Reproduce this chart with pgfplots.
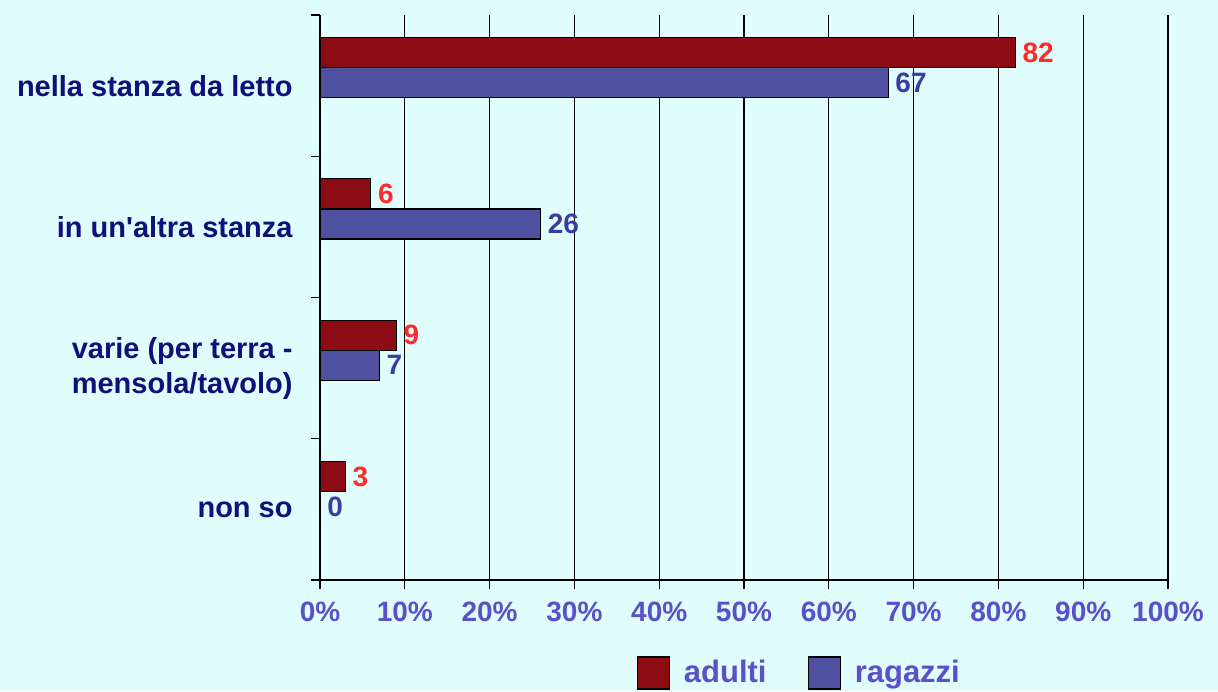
\documentclass[border=0pt]{standalone}
\usepackage{pgfplots}
\pgfplotsset{compat=1.18}
\usepackage{fontspec}
\setmainfont{Liberation Sans}
\definecolor{bgc}{HTML}{E0FCFC}
\definecolor{adulti}{HTML}{8C0C14}
\definecolor{ragazzi}{HTML}{5050A0}
\definecolor{tickc}{HTML}{5A50C8}
\definecolor{catc}{HTML}{10107A}
\definecolor{valred}{HTML}{FF2A2A}
\definecolor{valblue}{HTML}{3C3CA0}
\begin{document}
\begin{tikzpicture}
\useasboundingbox (-160pt,-55.5pt) rectangle (449pt,290pt);
\fill[bgc] (-160pt,-55.5pt) rectangle (449pt,290pt);
\begin{axis}[
  scale only axis,
  width=424pt, height=282.5pt,
  xbar,
  y dir=reverse,
  xmin=0, xmax=100,
  ymin=-0.5, ymax=3.5,
  axis x line*=bottom,
  axis y line*=left,
  xtick={0,10,...,100},
  xticklabel={\pgfmathprintnumber{\tick}\%},
  xticklabel style={font=\fontsize{14}{16}\selectfont\bfseries, text=tickc, yshift=-3pt},
  xmajorgrids,
  grid style={black, line width=0.6pt},
  axis line style={black, line width=0.6pt},
  tick style={black, line width=0.6pt},
  tick align=outside,
  major tick length=4.5pt,
  ytick={-0.5,0.5,1.5,2.5,3.5},
  yticklabels={},
  extra y ticks={0,1,2,3},
  extra y tick labels={nella stanza da letto, in un\textquotesingle altra stanza, {varie (per terra -\\mensola/tavolo)}, non so},
  extra y tick style={major tick length=0pt, yticklabel style={font=\fontsize{14.5}{17.5}\selectfont\bfseries, text=catc, align=center, inner sep=0pt, xshift=-13.5pt}},
  /pgf/number format/assume math mode=true,
  clip=false,
  legend columns=2,
  legend style={draw=none, fill=none, at={(axis description cs:0.373,-0.1646)}, anchor=west,
    inner sep=0pt, nodes={inner sep=0pt, font=\fontsize{15.5}{17}\selectfont\bfseries, text=tickc},
    /tikz/every odd column/.append style={column sep=7pt},
    /tikz/every even column/.append style={column sep=20.5pt}},
  legend cell align=left,
]
\addplot[xbar, fill=adulti, draw=black, line width=0.6pt, bar width=0.2124, bar shift=-0.2336,
  nodes near coords, every node near coord/.append style={text=valred, font=\fontsize{14}{16}\selectfont\bfseries},
  legend image code/.code={\draw[fill=adulti,draw=black,line width=0.6pt] (0pt,-8pt) rectangle (16pt,8pt);}]
  coordinates {(82,0) (6,1) (9,2) (3,3)};
\addlegendentry{adulti}
\addplot[xbar, fill=ragazzi, draw=black, line width=0.6pt, bar width=0.2124, bar shift=-0.021,
  nodes near coords, every node near coord/.append style={text=valblue, font=\fontsize{14}{16}\selectfont\bfseries},
  legend image code/.code={\draw[fill=ragazzi,draw=black,line width=0.6pt] (0pt,-8pt) rectangle (16pt,8pt);}]
  coordinates {(67,0) (26,1) (7,2) (0,3)};
\addlegendentry{ragazzi}
\end{axis}
\end{tikzpicture}
\end{document}
